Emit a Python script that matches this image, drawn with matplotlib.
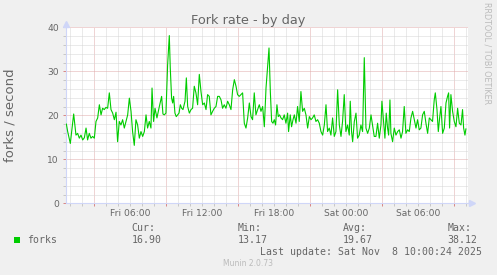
import matplotlib
matplotlib.use("Agg")
import matplotlib.pyplot as plt
from matplotlib.ticker import FixedLocator, MultipleLocator, FuncFormatter, NullFormatter
from matplotlib.patches import Rectangle

# ---------------- data ----------------
title = "Fork rate - by day"
y_label = "forks / second"
series_name = "forks"

# hours since Fri 00:00
hours = [
    0.67, 0.78, 1.00, 1.28, 1.47, 1.61, 1.75, 1.89, 2.03, 2.17, 2.31, 2.44, 2.58, 2.72, 2.86,
    3.00, 3.14, 3.28, 3.42, 3.56, 3.69, 3.83, 3.97, 4.11, 4.25, 4.39, 4.53, 4.67, 4.81, 4.94,
    5.08, 5.22, 5.36, 5.50, 5.64, 5.78, 5.92, 6.06, 6.19, 6.33, 6.47, 6.61, 6.75, 6.89, 7.03,
    7.17, 7.31, 7.44, 7.58, 7.72, 7.81, 7.94, 8.06, 8.22, 8.42, 8.61, 8.72,
    8.83, 8.97, 9.11, 9.25, 9.33, 9.44, 9.53, 9.61, 9.72, 9.83, 9.94, 10.06, 10.17, 10.28,
    10.39, 10.56, 10.67, 10.78, 10.92, 11.06, 11.19, 11.33, 11.47, 11.61, 11.75, 11.89, 12.03,
    12.17, 12.31, 12.44, 12.58, 12.72, 12.86, 13.00, 13.14, 13.28, 13.42, 13.56, 13.69, 13.83,
    13.97, 14.11, 14.25, 14.39, 14.53, 14.67, 14.81, 14.94, 15.08, 15.22, 15.36, 15.50, 15.64,
    15.78, 15.92, 16.06, 16.19, 16.33, 16.47, 16.61, 16.75, 16.89, 17.03, 17.17, 17.31,
    17.44, 17.56, 17.67, 17.78, 17.89, 18.00, 18.11, 18.22, 18.33, 18.44, 18.56, 18.69, 18.83,
    18.97, 19.11, 19.19, 19.33, 19.44, 19.56, 19.67, 19.81, 19.94, 20.08, 20.22, 20.36, 20.50,
    20.64, 20.78, 20.92, 21.06, 21.19, 21.33, 21.47, 21.61, 21.75, 21.89, 22.03, 22.17, 22.31,
    22.44, 22.58, 22.72, 22.86, 23.00, 23.14, 23.28, 23.42, 23.56, 23.69, 23.83, 23.97, 24.11,
    24.25, 24.33, 24.44, 24.53, 24.67, 24.81, 24.94, 25.08, 25.22, 25.36, 25.50, 25.64, 25.78,
    25.92, 26.06, 26.19, 26.33, 26.47, 26.61, 26.75, 26.89, 26.97, 27.08, 27.22, 27.33, 27.44,
    27.53, 27.64, 27.72, 27.86, 28.00, 28.14, 28.28, 28.42, 28.56, 28.69, 28.83, 28.97, 29.11,
    29.25, 29.39, 29.53, 29.67, 29.81, 29.94, 30.08, 30.22, 30.36, 30.50, 30.64, 30.78, 30.92,
    31.06, 31.19, 31.33, 31.42, 31.56, 31.67, 31.78, 31.89, 32.03, 32.17, 32.31, 32.44, 32.53,
    32.61, 32.72, 32.86, 33.00, 33.14, 33.28, 33.42, 33.56, 33.69, 33.78, 33.89, 33.97,
]
forks = [
    18.0, 16.3, 13.6, 20.3, 15.5, 15.9, 14.8, 15.5, 14.4, 14.9, 17.1, 14.4, 15.9, 14.8, 15.2,
    14.8, 18.6, 19.4, 22.4, 20.1, 21.6, 21.3, 21.8, 21.6, 25.1, 21.3, 20.5, 19.0, 20.7, 14.0,
    18.6, 17.8, 19.0, 17.1, 18.6, 20.1, 23.9, 20.9, 16.3, 13.17, 19.0, 17.8, 14.8, 16.3, 15.2,
    16.3, 20.1, 17.1, 18.6, 17.1, 26.2, 18.6, 21.6, 19.4, 22.0, 24.3, 20.3,
    20.1, 20.5, 31.5, 38.12, 30.8, 23.9, 22.8, 24.3, 20.5, 19.7, 20.1, 20.5, 22.4, 21.6,
    21.3, 23.2, 28.5, 22.0, 20.5, 21.3, 21.6, 26.6, 25.1, 22.4, 29.3, 25.4, 22.4,
    22.8, 21.3, 24.7, 24.3, 20.1, 20.9, 21.6, 22.0, 24.3, 24.3, 23.5, 21.6, 22.4,
    21.6, 23.2, 22.4, 21.3, 25.8, 28.1, 26.6, 24.7, 24.3, 24.7, 25.1, 18.2, 17.1,
    19.4, 22.8, 19.7, 19.0, 25.1, 20.1, 21.3, 22.4, 20.9, 22.0, 17.4, 26.2,
    30.8, 35.3, 25.4, 18.6, 18.2, 19.0, 17.8, 22.4, 19.7, 20.1, 19.4, 19.0, 20.1,
    18.2, 20.5, 16.3, 20.1, 17.4, 19.0, 20.1, 18.2, 22.0, 18.6, 25.4, 20.9, 21.6,
    20.1, 17.1, 19.7, 19.0, 19.4, 20.1, 18.6, 19.0, 18.2, 16.3, 15.5, 17.8, 22.4,
    16.3, 17.1, 15.5, 19.4, 15.2, 16.3, 25.8, 17.8, 15.2, 18.6, 24.7, 16.3, 17.8,
    15.5, 23.2, 16.3, 14.0, 18.6, 20.5, 14.8, 15.5, 17.8, 16.3, 33.1, 17.1, 15.9,
    17.1, 20.1, 17.8, 15.2, 15.2, 18.2, 14.8, 17.8, 23.2, 19.4, 14.8, 20.5, 17.1,
    15.5, 23.5, 15.9, 14.0, 17.1, 15.5, 16.3, 16.7, 14.8, 16.3, 22.0, 15.9, 16.7,
    16.3, 19.4, 20.9, 19.0, 17.1, 19.0, 16.7, 17.1, 20.1, 20.9, 18.2, 15.9, 19.4,
    19.0, 18.6, 23.5, 25.1, 21.3, 16.3, 19.4, 22.0, 15.9, 17.1, 22.8, 24.3, 25.1,
    17.1, 24.7, 20.9, 18.6, 17.4, 21.6, 18.2, 17.8, 21.3, 17.1, 15.5, 16.9,
]

x_label_hours = [6, 12, 18, 24, 30]
x_labels = ["Fri 06:00", "Fri 12:00", "Fri 18:00", "Sat 00:00", "Sat 06:00"]
x_major_hours = [3, 9, 15, 21, 27, 33]
y_ticks = [0, 10, 20, 30, 40]

stat_names = ["Cur:", "Min:", "Avg:", "Max:"]
stat_values = ["16.90", "13.17", "19.67", "38.12"]
last_update = "Last update: Sat Nov  8 10:00:24 2025"
footer = "Munin 2.0.73"
watermark = "RRDTOOL / TOBI OETIKER"

# ---------------- style ----------------
W, H = 497, 275
BG = "#F0F0F0"
FONT_C = "#666666"
AXIS_C = "#CFD6F8"
MGRID = "#E0AAAA"
GRID = "#D6D6D6"
LINE_C = "#00CC00"

fig = plt.figure(figsize=(W / 100, H / 100), dpi=100, facecolor=BG)

left, right, top, bottom = 66, 468.3, 27.3, 203.3
ax = fig.add_axes([left / W, 1 - bottom / H, (right - left) / W, (bottom - top) / H])
ax.set_facecolor("white")

ax.plot(hours, forks, color=LINE_C, linewidth=0.8, zorder=3)

ax.set_xlim(0.64, 34.17)
ax.set_ylim(0, 40)

ax.xaxis.set_major_locator(FixedLocator(x_major_hours))
ax.xaxis.set_minor_locator(MultipleLocator(1))
ax.xaxis.set_major_formatter(NullFormatter())
lab_map = dict(zip(x_label_hours, x_labels))
ax.xaxis.set_minor_formatter(FuncFormatter(lambda v, p: lab_map.get(int(round(v)), "") if abs(v - round(v)) < 1e-6 else ""))

ax.yaxis.set_major_locator(FixedLocator(y_ticks))
ax.yaxis.set_minor_locator(MultipleLocator(2))

dots = (0, (1, 1))
ax.grid(which="major", color=MGRID, linestyle=dots, linewidth=0.72, zorder=1)
ax.grid(which="minor", color=GRID, linestyle=dots, linewidth=0.72, zorder=0)
ax.set_axisbelow(True)

ax.tick_params(which="major", axis="both", length=2, width=0.72, color="#D88888",
               labelcolor=FONT_C, labelsize=6.6)
ax.tick_params(which="minor", axis="both", length=2, width=0.72, color="#C8C8C8",
               labelcolor=FONT_C, labelsize=6.6)
ax.tick_params(axis="x", which="both", pad=2.3)
ax.tick_params(axis="y", which="both", pad=3)

for s in ("top", "right"):
    ax.spines[s].set_visible(False)
for s in ("left", "bottom"):
    ax.spines[s].set_color(AXIS_C)
    ax.spines[s].set_linewidth(0.8)

# axis arrows
ax.plot([0, 0], [1, 1.02], color=AXIS_C, lw=0.8, transform=ax.transAxes, clip_on=False)
ax.plot([0], [1.018], marker="^", markersize=4, color=AXIS_C, transform=ax.transAxes, clip_on=False)
ax.plot([1, 1.008], [0, 0], color=AXIS_C, lw=0.8, transform=ax.transAxes, clip_on=False)
ax.plot([1.008], [0], marker=">", markersize=4, color=AXIS_C, transform=ax.transAxes, clip_on=False)

# texts
fig.text(248.3 / W, 1 - 24 / H, title, ha="center", va="baseline", fontsize=9.3,
         color=FONT_C, family="DejaVu Sans")
fig.text(10 / W, 1 - 115.3 / H, y_label, ha="center", va="center", rotation=90,
         fontsize=9.5, color=FONT_C, family="DejaVu Sans")
fig.text(487 / W, 1 - 53.5 / H, watermark, ha="center", va="center", rotation=270,
         fontsize=5.8, color="#BBBBBB", family="DejaVu Sans")

mono = "DejaVu Sans Mono"
fig.patches.append(Rectangle((14 / W, 1 - 242.7 / H), 6 / W, 5.4 / H, transform=fig.transFigure,
                             facecolor=LINE_C, edgecolor="none"))
fig.text(26.7 / W, 1 - 242.8 / H, series_name, ha="left", va="baseline", fontsize=7.1,
         color=FONT_C, family=mono)
stat_x = [131.7, 237.3, 342.7, 447.3]
for sx, nm, vl in zip(stat_x, stat_names, stat_values):
    fig.text(sx / W, 1 - 230.8 / H, nm, ha="left", va="baseline", fontsize=7.1,
             color=FONT_C, family=mono)
    fig.text(sx / W, 1 - 242.8 / H, vl, ha="left", va="baseline", fontsize=7.1,
             color=FONT_C, family=mono)
fig.text(482.3 / W, 1 - 255.2 / H, last_update, ha="right", va="baseline", fontsize=7.1,
         color=FONT_C, family=mono)
fig.text(248 / W, 1 - 266.5 / H, footer, ha="center", va="baseline", fontsize=5.5,
         color="#BBBBBB", family="DejaVu Sans")

fig.savefig("out.png", dpi=100, facecolor=BG)
